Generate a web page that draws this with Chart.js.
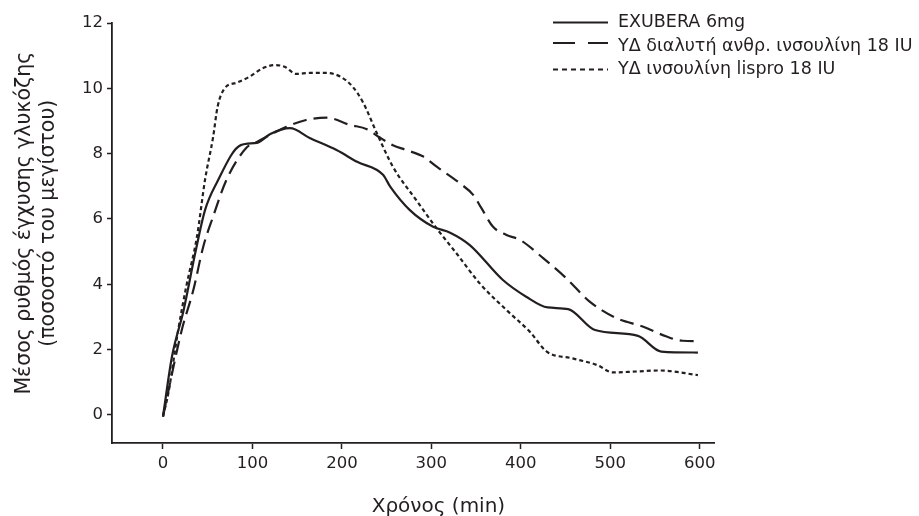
<!DOCTYPE html>
<html>
<head>
<meta charset="utf-8">
<script src="https://cdn.jsdelivr.net/npm/chart.js@4"></script>
<style>
    html, body { margin: 0; padding: 0; background: #fff; }
    #wrap { width: 919px; height: 516px; }
</style>
</head>
<body>
<div id="wrap"><canvas id="glucoseChart" width="919" height="516"></canvas></div>
<script>
// Series labels
const seriesLabels = [
    'EXUBERA 6mg',
    'ΥΔ διαλυτή ανθρ. ινσουλίνη 18 IU',
    'ΥΔ ινσουλίνη lispro 18 IU'
];

// EXUBERA 6mg (solid)
const exuberaTime = [0, 10, 23, 36, 47, 60, 87, 105, 120, 142, 164, 194, 217, 246, 254, 276, 302, 321, 343, 380, 406, 430, 453, 483, 531, 557, 598];
const exuberaRate = [-0.05, 1.78, 3.2, 4.95, 6.27, 7.1, 8.26, 8.33, 8.6, 8.78, 8.48, 8.11, 7.75, 7.35, 6.99, 6.27, 5.76, 5.58, 5.2, 4.13, 3.62, 3.29, 3.24, 2.6, 2.42, 1.94, 1.91];

// SC regular human insulin 18 IU (dashed)
const regularTime = [0, 21, 34, 45, 56, 71, 94, 105, 138, 160, 183, 209, 228, 242, 257, 272, 291, 306, 332, 347, 356, 369, 384, 399, 425, 451, 477, 507, 537, 563, 581, 598];
const regularRate = [-0.05, 2.6, 3.83, 5.15, 6.07, 7.2, 8.2, 8.36, 8.82, 9.03, 9.1, 8.88, 8.75, 8.5, 8.26, 8.11, 7.91, 7.6, 7.09, 6.73, 6.33, 5.76, 5.51, 5.36, 4.8, 4.18, 3.47, 2.96, 2.7, 2.4, 2.27, 2.26];

// SC insulin lispro 18 IU (dotted)
const lisproTime = [0, 6, 17, 26, 38, 47, 56, 61, 69, 82, 97, 112, 125, 136, 149, 164, 183, 198, 212, 224, 239, 257, 283, 306, 328, 354, 384, 410, 429, 458, 485, 503, 529, 555, 598];
const lisproRate = [-0.05, 0.67, 2.6, 3.93, 5.46, 7.2, 8.5, 9.43, 10.0, 10.17, 10.36, 10.62, 10.71, 10.66, 10.44, 10.47, 10.47, 10.36, 10.05, 9.55, 8.63, 7.6, 6.58, 5.71, 4.95, 4.03, 3.21, 2.55, 1.94, 1.73, 1.53, 1.3, 1.33, 1.36, 1.22];

// Tick labels
const xTicks = [0, 100, 200, 300, 400, 500, 600];
const yTicks = [0, 2, 4, 6, 8, 10, 12];

const ink = '#231f20';
const fontFamily = "'DejaVu Sans', 'Liberation Sans', Arial, sans-serif";

function toPoints(xs, ys) {
    return xs.map((x, i) => ({ x: x, y: ys[i] }));
}

// Legend drawn at the top right, outside the plot area
const sideLegend = {
    id: 'sideLegend',
    afterDraw(chart, args, opts) {
        const ctx = chart.ctx;
        ctx.save();
        chart.data.datasets.forEach((ds, i) => {
            const y = opts.rows[i];
            ctx.strokeStyle = ds.borderColor;
            ctx.lineWidth = ds.borderWidth;
            ctx.setLineDash(opts.dashes[i]);
            ctx.beginPath();
            ctx.moveTo(opts.lineStart, y + opts.lineShift[i]);
            ctx.lineTo(opts.lineEnd, y + opts.lineShift[i]);
            ctx.stroke();
            ctx.setLineDash([]);
            ctx.fillStyle = ink;
            ctx.font = opts.font;
            ctx.textBaseline = 'middle';
            ctx.textAlign = 'left';
            ctx.fillText(ds.label, opts.textStart, y);
        });
        ctx.restore();
    }
};

const ctx = document.getElementById('glucoseChart').getContext('2d');
const glucoseChart = new Chart(ctx, {
    type: 'line',
    data: {
        datasets: [{
            label: seriesLabels[0],
            data: toPoints(exuberaTime, exuberaRate),
            borderColor: ink,
            borderWidth: 2.2,
            borderDash: []
        }, {
            label: seriesLabels[1],
            data: toPoints(regularTime, regularRate),
            borderColor: ink,
            borderWidth: 2.2,
            borderDash: [14, 7]
        }, {
            label: seriesLabels[2],
            data: toPoints(lisproTime, lisproRate),
            borderColor: ink,
            borderWidth: 2.2,
            borderDash: [4, 3]
        }]
    },
    options: {
        responsive: false,
        animation: false,
        cubicInterpolationMode: 'monotone',
        elements: {
            point: { radius: 0 },
            line: { fill: false }
        },
        layout: {
            padding: { left: 0, right: 205, top: 23, bottom: 0 }
        },
        plugins: {
            legend: { display: false },
            tooltip: { enabled: false },
            sideLegend: {
                rows: [22.5, 46, 69.5],
                lineShift: [0, -3, 0],
                dashes: [[], [22, 13], [5, 4]],
                lineStart: 553,
                lineEnd: 608,
                textStart: 618,
                font: '17.5px ' + fontFamily
            }
        },
        scales: {
            x: {
                type: 'linear',
                min: -57,
                max: 616,
                afterBuildTicks: (scale) => {
                    scale.ticks = xTicks.map(v => ({ value: v }));
                },
                afterFit: (scale) => { scale.height = 73; },
                border: { display: true, color: ink, width: 1.8 },
                grid: {
                    drawOnChartArea: false,
                    drawTicks: true,
                    tickLength: 6,
                    tickWidth: 1.5,
                    tickColor: ink
                },
                ticks: {
                    color: ink,
                    padding: 5,
                    maxRotation: 0,
                    font: { family: fontFamily, size: 16.5 }
                },
                title: {
                    display: true,
                    // leading spaces push the centred title right, as in the original
                    text: '        Χρόνος (min)',
                    color: ink,
                    padding: { top: 0, bottom: -3 },
                    font: { family: fontFamily, size: 20 }
                }
            },
            y: {
                type: 'linear',
                min: -0.86,
                max: 12,
                afterBuildTicks: (scale) => {
                    scale.ticks = yTicks.map(v => ({ value: v }));
                },
                afterFit: (scale) => { scale.width = 112; },
                border: { display: true, color: ink, width: 1.8 },
                grid: {
                    drawOnChartArea: false,
                    drawTicks: true,
                    tickLength: 5,
                    tickWidth: 1.5,
                    tickColor: ink
                },
                ticks: {
                    color: ink,
                    padding: 4,
                    font: { family: fontFamily, size: 16.5 }
                },
                title: {
                    display: true,
                    text: ['   Μέσος ρυθμός έγχυσης γλυκόζης', '   (ποσοστό του μεγίστου)'],
                    color: ink,
                    padding: { top: 13, bottom: 0 },
                    font: { family: fontFamily, size: 20.5, lineHeight: 1.17 }
                }
            }
        }
    },
    plugins: [sideLegend]
});
</script>
</body>
</html>
